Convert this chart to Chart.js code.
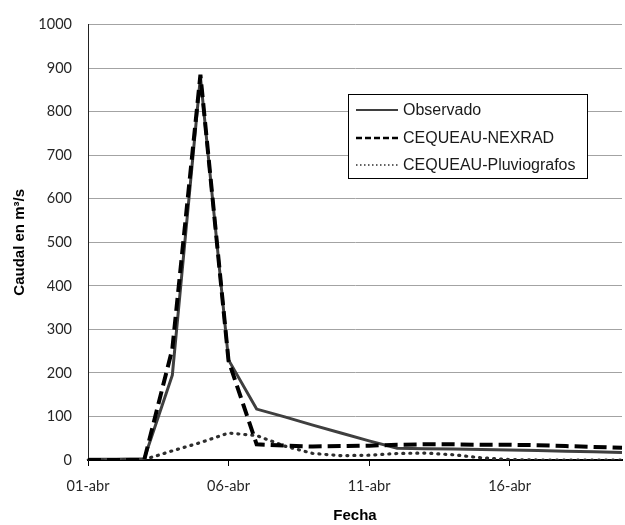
<!DOCTYPE html>
<html><head><meta charset="utf-8">
<script src="https://cdn.jsdelivr.net/npm/chart.js@4.4.0/dist/chart.umd.min.js"></script>
<style>html,body{margin:0;padding:0;background:#fff}canvas{display:block}</style>
</head><body>
<canvas id="c" width="625" height="525"></canvas>
<script>
const categories = ['01-abr','02-abr','03-abr','04-abr','05-abr','06-abr','07-abr','08-abr','09-abr','10-abr',
                    '11-abr','12-abr','13-abr','14-abr','15-abr','16-abr','17-abr','18-abr','19-abr','20-abr'];
const tickLabels = ['01-abr','06-abr','11-abr','16-abr'];
const observado    = [2, 2, 3, 195, 880, 230, 117, 99, 80, 62, 44, 27, 26, 25, 24, 23, 22, 20, 19, 17];
const nexrad       = [0, 0, 0, 255, 885, 228, 36, 33, 31, 32, 33, 35, 36, 36, 35, 35, 34, 32, 30, 28];
const pluviografos = [0, 0, 1, 21, 40, 62, 56, 32, 15, 10, 11, 15, 16, 12, 5, 1, 0, 0, 0, 0];
const seriesNames = ['Observado', 'CEQUEAU-NEXRAD', 'CEQUEAU-Pluviografos'];
const yTitle = 'Caudal en m\u00B3/s';
const xTitle = 'Fecha';

const tickFont = {family: 'Lato, "Open Sans", sans-serif', size: 14.5};
const titleFont = {family: '"Liberation Sans", Arial, sans-serif', size: 15, weight: 'bold'};

const boxLegend = {
  id: 'boxLegend',
  afterDatasetsDraw(chart) {
    const ctx = chart.ctx;
    const x0 = 348, y0 = 94, w = 239, h = 84;
    ctx.save();
    ctx.fillStyle = '#fff';
    ctx.fillRect(x0, y0, w, h);
    ctx.strokeStyle = '#000';
    ctx.lineWidth = 1;
    ctx.strokeRect(x0 + 0.5, y0 + 0.5, w, h);
    const rows = [110, 138, 165];
    chart.data.datasets.forEach((ds, i) => {
      ctx.beginPath();
      ctx.strokeStyle = ds.borderColor;
      ctx.lineWidth = ds.legendWidth;
      ctx.setLineDash(ds.legendDash);
      ctx.lineCap = ds.legendCap;
      ctx.moveTo(356, rows[i]);
      ctx.lineTo(398, rows[i]);
      ctx.stroke();
      ctx.setLineDash([]);
      ctx.fillStyle = '#1a1a1a';
      ctx.font = '16px "Liberation Sans", Arial, sans-serif';
      ctx.textBaseline = 'middle';
      ctx.fillText(ds.label, 403, rows[i] + 1);
    });
    ctx.restore();
  }
};

new Chart(document.getElementById('c'), {
  type: 'line',
  data: {
    labels: categories,
    datasets: [
      {label: seriesNames[0], data: observado, borderColor: '#3f3f3f', borderWidth: 3,
       pointRadius: 0, tension: 0, fill: false, order: 2,
       legendWidth: 2, legendDash: [], legendCap: 'butt'},
      {label: seriesNames[1], data: nexrad, borderColor: '#000000', borderWidth: 4,
       borderDash: [13, 6], pointRadius: 0, tension: 0, fill: false, order: 0,
       legendWidth: 2.5, legendDash: [6, 3], legendCap: 'butt'},
      {label: seriesNames[2], data: pluviografos, borderColor: '#2e2e2e', borderWidth: 3.2,
       borderDash: [1, 6], borderCapStyle: 'round', pointRadius: 0, tension: 0, fill: false, order: 1,
       legendWidth: 1.5, legendDash: [1.5, 2.5], legendCap: 'butt'}
    ]
  },
  options: {
    responsive: false,
    devicePixelRatio: 1,
    animation: false,
    layout: {padding: {top: 15, right: 3, left: 0, bottom: 0}},
    plugins: {legend: {display: false}, tooltip: {enabled: false}},
    scales: {
      x: {
        type: 'category',
        offset: false,
        afterFit(s) { s.height = 65; },
        grid: {drawOnChartArea: false, drawTicks: true, tickLength: 6, tickColor: '#000', color: '#000'},
        border: {display: true, color: '#000', width: 2},
        ticks: {
          autoSkip: false, maxRotation: 0, minRotation: 0, padding: 12,
          font: tickFont, color: '#262626',
          callback(v, i) { const l = categories[i]; return tickLabels.includes(l) ? l : null; }
        },
        title: {display: true, text: xTitle, font: titleFont, color: '#000', padding: {top: 0, bottom: 0}}
      },
      y: {
        min: 0, max: 1000,
        afterFit(s) { s.width = 88; },
        grid: {color: '#a3a3a3', lineWidth: 1, drawTicks: false},
        border: {display: true, color: '#222', width: 1},
        ticks: {stepSize: 100, padding: 16, font: tickFont, color: '#262626',
                callback(v) { return String(v); }},
        title: {display: true, text: yTitle, font: titleFont, color: '#000', padding: {top: 11, bottom: 0}}
      }
    }
  },
  plugins: [boxLegend]
});
</script>
</body></html>
